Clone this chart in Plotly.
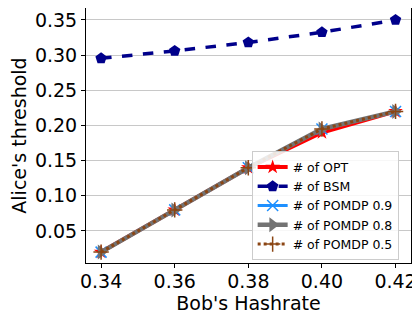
import plotly.graph_objects as go

hashrate = [0.34, 0.36, 0.38, 0.40, 0.42]
opt = [0.02, 0.08, 0.14, 0.19, 0.22]
bsm = [0.2955, 0.306, 0.318, 0.3325, 0.35]
pomdp_09 = [0.02, 0.08, 0.14, 0.195, 0.22]
pomdp_08 = [0.02, 0.08, 0.14, 0.195, 0.22]
pomdp_05 = [0.02, 0.08, 0.14, 0.195, 0.22]
yticks = [0.05, 0.10, 0.15, 0.20, 0.25, 0.30, 0.35]
xticks = [0.34, 0.36, 0.38, 0.40, 0.42]

FONT = "DejaVu Sans"

fig = go.Figure()
fig.add_trace(go.Scatter(x=hashrate, y=opt, name="# of OPT", mode="lines+markers",
                         line=dict(color="red", width=4),
                         marker=dict(symbol="star", size=11, color="red")))
fig.add_trace(go.Scatter(x=hashrate, y=bsm, name="# of BSM", mode="lines+markers",
                         line=dict(color="#00008b", width=3.5, dash="dash"),
                         marker=dict(symbol="pentagon", size=12, color="#00008b")))
fig.add_trace(go.Scatter(x=hashrate, y=pomdp_09, name="# of POMDP 0.9", mode="lines+markers",
                         line=dict(color="#1e90ff", width=3),
                         marker=dict(symbol="x-thin", size=11, color="#1e90ff",
                                     line=dict(color="#1e90ff", width=1.5))))
fig.add_trace(go.Scatter(x=hashrate, y=pomdp_08, name="# of POMDP 0.8", mode="lines+markers",
                         line=dict(color="#737373", width=4.5),
                         marker=dict(symbol="triangle-right", size=13, color="#737373")))
fig.add_trace(go.Scatter(x=hashrate, y=pomdp_05, name="# of POMDP 0.5", mode="lines+markers",
                         line=dict(color="#8b4513", width=3, dash="dot"),
                         marker=dict(symbol="cross-thin", size=11, color="#8b4513",
                                     line=dict(color="#8b4513", width=1.5))))

# The page body has an 8px margin, so the figure is sized to fill the rest of the window.
fig.update_layout(
    width=412, height=306,
    margin=dict(l=78, r=9, t=0, b=51, autoexpand=False),
    paper_bgcolor="white", plot_bgcolor="white",
    font=dict(family=FONT, size=19, color="black"),
    showlegend=True,
    legend=dict(x=0.962, y=0.01, xanchor="right", yanchor="bottom",
                bgcolor="rgba(255,255,255,0.85)", bordercolor="#cccccc", borderwidth=1,
                font=dict(family=FONT, size=12.5, color="black"),
                tracegroupgap=0, itemwidth=30),
)
fig.update_xaxes(
    range=[0.3359, 0.4242], tickvals=xticks, ticktext=[f"{v:.2f}" for v in xticks],
    showgrid=False, zeroline=False, showline=True, linecolor="black", linewidth=1,
    mirror=True, ticks="outside", ticklen=4, tickcolor="black", automargin=False,
    ticklabelstandoff=-3,
    title=dict(text="Bob's Hashrate", font=dict(size=19)),
    tickfont=dict(size=19),
)
fig.update_yaxes(
    range=[0.0045, 0.367], tickvals=yticks, ticktext=[f"{v:.2f}" for v in yticks],
    showgrid=True, gridcolor="#c8c8c8", gridwidth=1, zeroline=False,
    showline=True, linecolor="black", linewidth=1, mirror=True,
    ticks="outside", ticklen=4, tickcolor="black", automargin=False,
    title=dict(text="Alice's threshold", font=dict(size=19)),
    tickfont=dict(size=19),
)

fig.write_html("out.html")
